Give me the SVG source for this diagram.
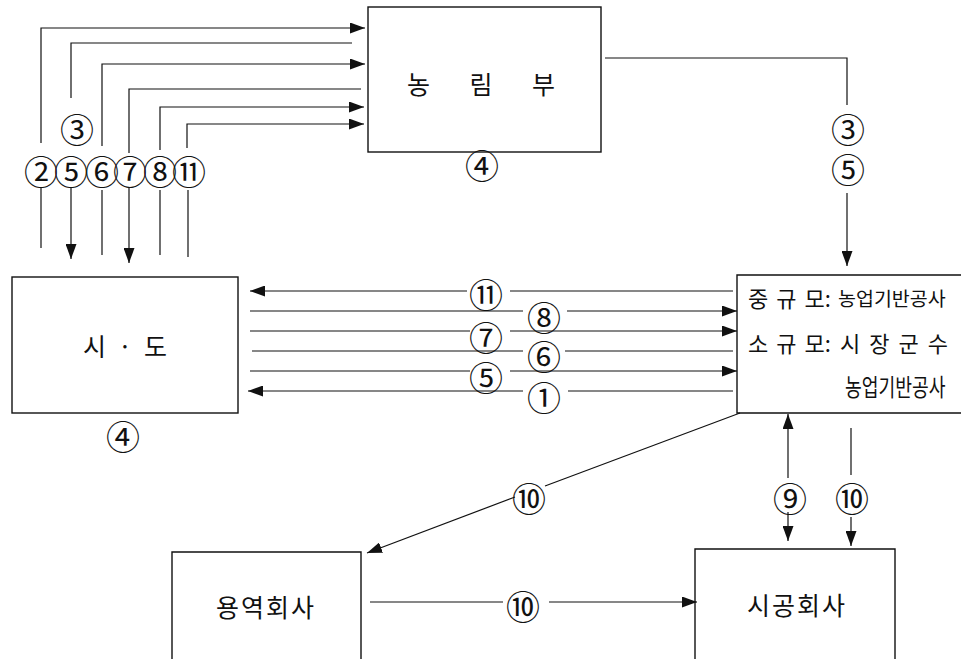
<svg xmlns="http://www.w3.org/2000/svg" width="961" height="659" viewBox="0 0 961 659">
<style>
  .box{fill:#fff;stroke:#111;stroke-width:1.4}
  .ln{fill:none;stroke:#111;stroke-width:1.2}
  .arr{marker-end:url(#ah)}
  .num{font-family:"Noto Sans CJK KR","DejaVu Sans",sans-serif;font-size:34px;fill:#111;text-anchor:middle;dominant-baseline:central}
  .kt{font-family:"Noto Sans CJK KR","Noto Sans",sans-serif;fill:#111;dominant-baseline:central}
</style>
<defs>
  <marker id="ah" markerUnits="userSpaceOnUse" markerWidth="15" markerHeight="11" refX="15" refY="5.5" orient="auto">
    <path d="M0,0 L15,5.5 L0,11 z" fill="#111"/>
  </marker>
</defs>
<rect width="961" height="659" fill="#fff"/>

<g id="node-nongrimbu">
  <rect class="box" x="368" y="7" width="233" height="145"/>
  <text class="kt" x="407" y="83" font-size="25" textLength="148" lengthAdjust="spacing">농 림 부</text>
  <text class="num" x="482" y="164">④</text>
</g>

<g id="node-sido">
  <rect class="box" x="12" y="277" width="226" height="136"/>
  <text class="kt" x="83" y="345" font-size="25" textLength="84" lengthAdjust="spacing">시 · 도</text>
  <text class="num" x="123" y="435">④</text>
</g>

<g id="node-agency">
  <path class="box" d="M961,275 H737 V413 H961"/>
  <text class="kt" x="748" y="297" font-size="22"><tspan letter-spacing="8">중규</tspan>모:<tspan x="838" font-size="19.5">농업기반공사</tspan></text>
  <text class="kt" x="748" y="342" font-size="22"><tspan letter-spacing="8">소규</tspan>모:<tspan x="840" letter-spacing="9">시장군</tspan>수</text>
  <text class="kt" transform="translate(845,385) scale(0.76,1)" x="0" y="0" font-size="24">농업기반공사</text>
</g>

<g id="node-yongyeok">
  <path class="box" d="M172,659 V552 H361 V659"/>
  <text class="kt" x="266" y="606" font-size="25" letter-spacing="2" text-anchor="middle">용역회사</text>
</g>

<g id="node-sigong">
  <path class="box" d="M695,659 V549 H895 V659"/>
  <text class="kt" x="797" y="604" font-size="25" letter-spacing="2" text-anchor="middle">시공회사</text>
</g>

<g id="connectors">
  <!-- top-left bundle -->
  <path class="ln arr" d="M41,143 V28 H365"/>
  <path class="ln" d="M41,188 V248"/>
  <path class="ln" d="M71,98 V43 H352"/>
  <path class="ln arr" d="M71,188 V259"/>
  <path class="ln arr" d="M102,146 V64 H365"/>
  <path class="ln" d="M102,190 V255"/>
  <path class="ln" d="M129,153 V89 H361"/>
  <path class="ln arr" d="M129,188 V263"/>
  <path class="ln arr" d="M160,150 V107 H364"/>
  <path class="ln" d="M160,190 V255"/>
  <path class="ln arr" d="M187,148 V124 H364"/>
  <path class="ln" d="M188,190 V257"/>
  <text class="num" x="77" y="128">③</text>
  <text class="num" x="41" y="170">②</text>
  <text class="num" x="71" y="170">⑤</text>
  <text class="num" x="102" y="170">⑥</text>
  <text class="num" x="130" y="170">⑦</text>
  <text class="num" x="160" y="170">⑧</text>
  <text class="num" x="189" y="170">⑪</text>

  <!-- nongrimbu to agency -->
  <path class="ln" d="M605,58 H847 V105"/>
  <path class="ln arr" d="M847,193 V266"/>
  <text class="num" x="848" y="128">③</text>
  <text class="num" x="848" y="168">⑤</text>

  <!-- middle bundle -->
  <path class="ln arr" d="M467,291 H250"/>
  <path class="ln" d="M510,291 H733"/>
  <text class="num" x="486" y="293">⑪</text>

  <path class="ln" d="M250,311 H523"/>
  <path class="ln arr" d="M567,311 H737"/>
  <text class="num" x="544" y="316">⑧</text>

  <path class="ln" d="M250,331 H470"/>
  <path class="ln arr" d="M510,331 H737"/>
  <text class="num" x="486" y="336">⑦</text>

  <path class="ln" d="M252,351 H523"/>
  <path class="ln" d="M565,351 H733"/>
  <text class="num" x="544" y="355">⑥</text>

  <path class="ln" d="M250,371 H470"/>
  <path class="ln arr" d="M510,371 H737"/>
  <text class="num" x="486" y="376">⑤</text>

  <path class="ln arr" d="M523,391 H248"/>
  <path class="ln" d="M568,391 H733"/>
  <text class="num" x="544" y="396">①</text>

  <!-- bottom -->
  <path class="ln" d="M740,413 L545,486"/>
  <path class="ln arr" d="M515,497 L367,553"/>
  <text class="num" x="529" y="497">⑩</text>

  <path class="ln" d="M370,602 H503"/>
  <path class="ln arr" d="M549,602 H697"/>
  <text class="num" x="523" y="605">⑩</text>

  <path class="ln arr" d="M788,478 V414"/>
  <path class="ln arr" d="M788,512 V541"/>
  <text class="num" x="790" y="497">⑨</text>

  <path class="ln" d="M851,428 V475"/>
  <path class="ln arr" d="M851,517 V546"/>
  <text class="num" x="852" y="497">⑩</text>
</g>
</svg>
